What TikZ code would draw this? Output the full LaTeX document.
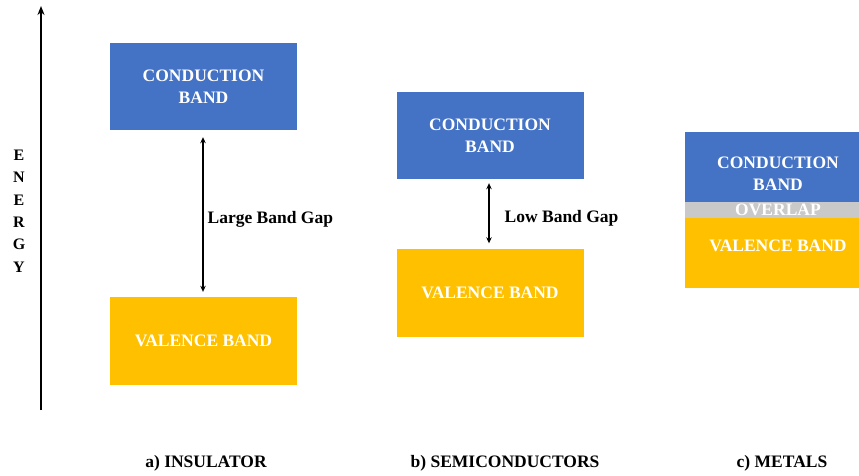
\documentclass[tikz,border=0pt]{standalone}
\usepackage{fontspec}
\setmainfont{Liberation Serif}
\usetikzlibrary{positioning,arrows.meta}
\definecolor{bandblue}{HTML}{4472C4}
\definecolor{bandgold}{HTML}{FFC000}
\definecolor{bandgray}{HTML}{C9C9C9}

\begin{document}
\begin{tikzpicture}[
  x=1pt, y=-1pt,
  font=\fontsize{17.5}{22}\selectfont\bfseries,
  band/.style={inner sep=0pt, align=center, text=white, minimum width=187pt},
  cb/.style={band, fill=bandblue, minimum height=87pt},
  vb/.style={band, fill=bandgold, minimum height=88pt},
  ovl/.style={band, fill=bandgray, minimum height=16pt},
  gaparr/.style={{Stealth[length=6pt,width=5.5pt]}-{Stealth[length=6pt,width=5.5pt]}, line width=1.3pt},
  axarr/.style={-{Stealth[length=9pt,width=7pt]}, line width=1.8pt},
  lbl/.style={right=4pt, inner sep=0pt, yshift=-5pt},
  captxt/.style={inner sep=0pt}
]
\useasboundingbox (0,0) rectangle (859,475);
\clip (0,0) rectangle (859,475);

% energy axis
\coordinate (axbot) at (41,410);
\coordinate (axtop) at (41,6);
\draw[axarr] (axbot) -- (axtop);
\node[align=center, font=\fontsize{16}{22.4}\selectfont\bfseries] (energy) at (19,211) {E\\N\\E\\R\\G\\Y};

% a) insulator
\node[cb] (cbI) at (203.5,86.5) {CONDUCTION\\BAND};
\node[vb] (vbI) at (203.5,341) {VALENCE BAND};
\draw[gaparr] ([xshift=-0.5pt,yshift=-7pt]cbI.south) -- node[lbl]{Large Band Gap} ([xshift=-0.5pt,yshift=5pt]vbI.north);
\node[captxt] (capI) at (206,463) {a) INSULATOR};

% b) semiconductors
\node[cb] (cbS) at (490,135.5) {CONDUCTION\\BAND};
\node[vb] (vbS) at (490,292.5) {VALENCE BAND};
\draw[gaparr] ([xshift=-1pt,yshift=-4pt]cbS.south) -- node[lbl, right=15pt]{Low Band Gap} ([xshift=-1pt,yshift=5pt]vbS.north);
\node[captxt] (capS) at (505,463) {b) SEMICONDUCTORS};

% c) metals
\node[cb, minimum height=84pt] (cbM) at (778,174) {CONDUCTION\\BAND};
\node[vb, minimum height=84pt] (vbM) at (778,246) {VALENCE BAND};
\node[ovl] (ovM) at (778,210) {OVERLAP};
\node[captxt] (capM) at (782,463) {c) METALS};
\end{tikzpicture}
\end{document}
